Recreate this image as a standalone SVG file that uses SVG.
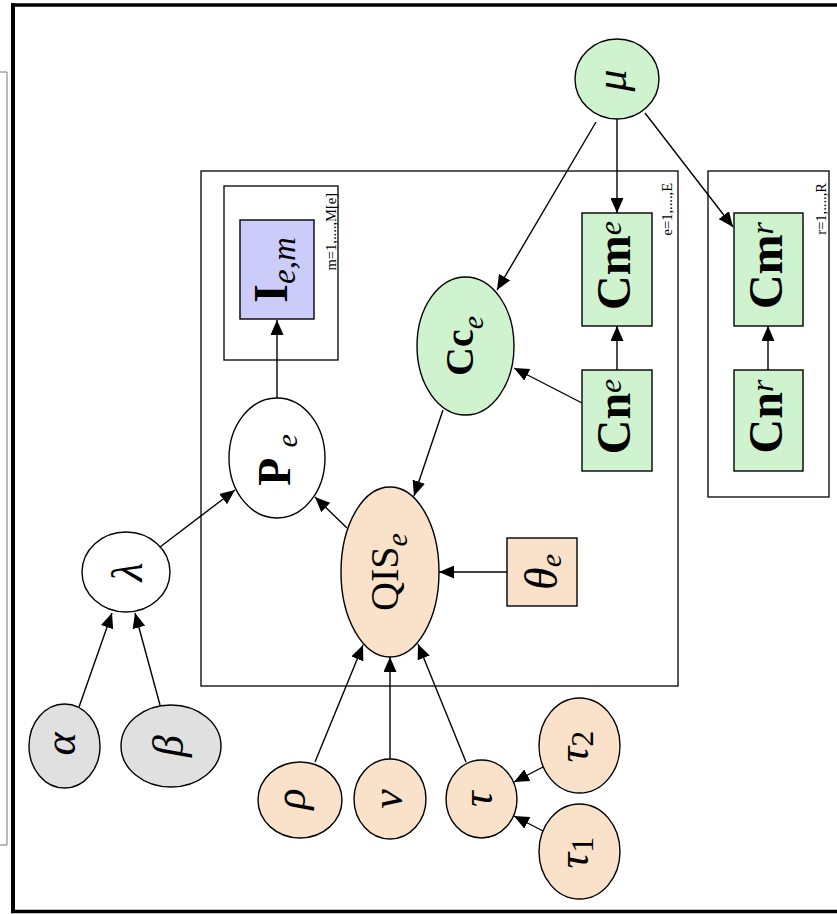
<svg xmlns="http://www.w3.org/2000/svg" width="837" height="914" viewBox="0 0 837 914">
<style>
  text { font-family: "Liberation Serif", "DejaVu Serif", serif; fill: #000; }
  .nd { stroke: #000; stroke-width: 1.4; }
  .peach { fill: #fae1ca; }
  .green { fill: #cff3cf; }
  .gray { fill: #e0e0e0; }
  .white { fill: #ffffff; }
  .lav { fill: #ccccfa; }
  .plate { fill: none; stroke: #000; stroke-width: 1.3; }
  .edge { stroke: #000; stroke-width: 1.4; fill: none; marker-end: url(#arr); }
  .b { font-weight: bold; }
  .i { font-style: italic; }
  .lbl { font-size: 14.5px; }
</style>
<defs>
  <marker id="arr" markerUnits="userSpaceOnUse" markerWidth="15" markerHeight="13" refX="15" refY="6.5" orient="auto">
    <path d="M0,0 L15,6.5 L0,13 z" fill="#000"/>
  </marker>
</defs>
<rect width="837" height="914" fill="#fff"/>

<g id="frame">
  <line x1="13" y1="3" x2="13" y2="913" stroke="#000" stroke-width="4"/>
  <line x1="11" y1="5" x2="837" y2="5" stroke="#000" stroke-width="3.5"/>
  <line x1="11" y1="911.5" x2="837" y2="911.5" stroke="#000" stroke-width="3.5"/>
  <polyline points="0,72 7,72 7,845 0,845" fill="none" stroke="#777" stroke-width="1"/>
</g>

<g id="plates">
  <rect class="plate" x="201" y="171" width="477" height="515"/>
  <text class="lbl" transform="translate(672,183) rotate(-90)" text-anchor="end">e=1,....,E</text>
  <rect class="plate" x="224" y="186" width="114" height="174"/>
  <text class="lbl" transform="translate(336,193) rotate(-90)" text-anchor="end">m=1,....,M[e]</text>
  <rect class="plate" x="708" y="171" width="121" height="326"/>
  <text class="lbl" transform="translate(826,183) rotate(-90)" text-anchor="end">r=1,....,R</text>
</g>

<g id="edges">
  <line class="edge" x1="160" y1="547" x2="235" y2="490"/>
  <line class="edge" x1="79" y1="707" x2="112" y2="613"/>
  <line class="edge" x1="160" y1="705" x2="135" y2="613"/>
  <line class="edge" x1="347" y1="528" x2="315" y2="497"/>
  <line class="edge" x1="277" y1="398" x2="277" y2="320"/>
  <line class="edge" x1="315" y1="762" x2="363" y2="645"/>
  <line class="edge" x1="390" y1="759" x2="390" y2="657"/>
  <line class="edge" x1="466" y1="762" x2="418" y2="644"/>
  <line class="edge" x1="543" y1="767" x2="514" y2="782"/>
  <line class="edge" x1="543" y1="831" x2="514" y2="816"/>
  <line class="edge" x1="507" y1="572" x2="439" y2="572"/>
  <line class="edge" x1="443" y1="410" x2="414" y2="496"/>
  <line class="edge" x1="596" y1="122" x2="497" y2="290"/>
  <line class="edge" x1="617" y1="119" x2="617" y2="213"/>
  <line class="edge" x1="645" y1="113" x2="733" y2="227"/>
  <line class="edge" x1="617" y1="370" x2="617" y2="326"/>
  <line class="edge" x1="768" y1="370" x2="768" y2="326"/>
  <line class="edge" x1="582" y1="403" x2="514" y2="368"/>
</g>

<g id="I_em">
  <rect class="nd lav" x="240" y="220" width="74" height="99"/>
  <text transform="translate(277,270) rotate(-90)" y="10" text-anchor="middle"><tspan class="b" font-size="48">I</tspan><tspan class="i" font-size="33" dy="8">e,m</tspan></text>
</g>

<g id="P_e">
  <ellipse class="nd white" cx="277" cy="458" rx="48" ry="60"/>
  <text transform="translate(277,458) rotate(-90)" x="-2" y="13" text-anchor="middle"><tspan class="b" font-size="46">P</tspan><tspan class="i" font-size="30" dx="10" dy="7">e</tspan></text>
</g>

<g id="QIS_e">
  <ellipse class="nd peach" cx="390" cy="572" rx="49" ry="85"/>
  <text transform="translate(390,572) rotate(-90)" y="8" text-anchor="middle"><tspan font-size="40">QIS</tspan><tspan class="i" font-size="30" dy="9">e</tspan></text>
</g>

<g id="theta_e">
  <rect class="nd peach" x="507" y="538" width="70" height="68"/>
  <text transform="translate(542,572) rotate(-90)" y="15" text-anchor="middle"><tspan class="i" font-size="46">θ</tspan><tspan class="i" font-size="30" dy="4">e</tspan></text>
</g>

<g id="lambda">
  <ellipse class="nd white" cx="126" cy="572" rx="44" ry="40"/>
  <text class="i" font-size="44" transform="translate(126,572) rotate(-90)" y="16" text-anchor="middle">λ</text>
</g>

<g id="alpha">
  <ellipse class="nd gray" cx="64.5" cy="746" rx="35.5" ry="42"/>
  <text class="i" font-size="44" transform="translate(64.5,746) rotate(-90)" x="2" y="10.5" text-anchor="middle">α</text>
</g>

<g id="beta">
  <ellipse class="nd gray" cx="171" cy="746" rx="50" ry="41"/>
  <text class="i" font-size="44" transform="translate(171,746) rotate(-90)" y="12" text-anchor="middle">β</text>
</g>

<g id="rho">
  <ellipse class="nd peach" cx="300" cy="800" rx="42" ry="38"/>
  <text class="i" font-size="44" transform="translate(300,800) rotate(-90)" x="1" y="5" text-anchor="middle">ρ</text>
</g>

<g id="nu">
  <ellipse class="nd peach" cx="390" cy="799" rx="36" ry="40"/>
  <text class="i" font-size="44" transform="translate(390,799) rotate(-90)" y="12" text-anchor="middle">ν</text>
</g>

<g id="tau">
  <ellipse class="nd peach" cx="481.5" cy="799" rx="35.5" ry="39"/>
  <text class="i" font-size="44" transform="translate(481.5,799) rotate(-90)" y="10.5" text-anchor="middle">τ</text>
</g>

<g id="tau2">
  <ellipse class="nd peach" cx="579.5" cy="745.5" rx="40.5" ry="47.5"/>
  <text transform="translate(579.5,745.5) rotate(-90)" x="-1" y="8.5" text-anchor="middle"><tspan class="i" font-size="44">τ</tspan><tspan font-size="32" dy="5">2</tspan></text>
</g>

<g id="tau1">
  <ellipse class="nd peach" cx="579.5" cy="851.5" rx="40.5" ry="47.5"/>
  <text transform="translate(579.5,851.5) rotate(-90)" x="-1" y="8.5" text-anchor="middle"><tspan class="i" font-size="44">τ</tspan><tspan font-size="32" dy="5">1</tspan></text>
</g>

<g id="mu">
  <ellipse class="nd green" cx="617" cy="79" rx="42" ry="40"/>
  <text class="i" font-size="44" transform="translate(617,79) rotate(-90)" x="-1.5" y="9" text-anchor="middle">μ</text>
</g>

<g id="Cc_e">
  <ellipse class="nd green" cx="465.5" cy="346" rx="48.5" ry="69"/>
  <text transform="translate(465.5,346) rotate(-90)" y="7.5" text-anchor="middle"><tspan class="b" font-size="40">Cc</tspan><tspan class="i" font-size="30" dy="10">e</tspan></text>
</g>

<g id="Cm_e">
  <rect class="nd green" x="582" y="213" width="70" height="113"/>
  <text transform="translate(617,269.5) rotate(-90)" x="4" y="13" text-anchor="middle"><tspan class="b" font-size="48">Cm</tspan><tspan class="i" font-size="32" dy="-9">e</tspan></text>
</g>

<g id="Cn_e">
  <rect class="nd green" x="582" y="370" width="70" height="101"/>
  <text transform="translate(617,420.5) rotate(-90)" x="4" y="13" text-anchor="middle"><tspan class="b" font-size="48">Cn</tspan><tspan class="i" font-size="32" dy="-9">e</tspan></text>
</g>

<g id="Cm_r">
  <rect class="nd green" x="734" y="213" width="69" height="113"/>
  <text transform="translate(768.5,269.5) rotate(-90)" x="4" y="13" text-anchor="middle"><tspan class="b" font-size="48">Cm</tspan><tspan class="i" font-size="32" dy="-9">r</tspan></text>
</g>

<g id="Cn_r">
  <rect class="nd green" x="734" y="370" width="69" height="101"/>
  <text transform="translate(768.5,420.5) rotate(-90)" x="4" y="13" text-anchor="middle"><tspan class="b" font-size="48">Cn</tspan><tspan class="i" font-size="32" dy="-9">r</tspan></text>
</g>
</svg>
